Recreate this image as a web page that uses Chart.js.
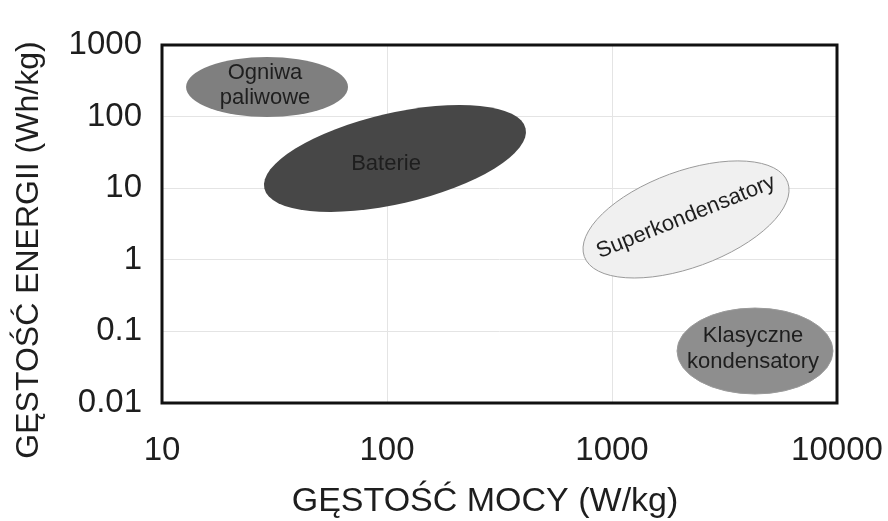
<!DOCTYPE html>
<html>
<head>
<meta charset="utf-8">
<script src="https://cdn.jsdelivr.net/npm/chart.js@4/dist/chart.umd.min.js"></script>
<style>
  body { margin: 0; background: #fff; }
  canvas { display: block; }
</style>
</head>
<body>
<canvas id="chartCanvas" width="888" height="521"></canvas>
<script>
// dane wykresu Ragone (oś X i Y logarytmiczne)
const xTicks = [10, 100, 1000, 10000]
const yTicks = [0.01, 0.1, 1, 10, 100, 1000]
const xTitle = "GĘSTOŚĆ MOCY (W/kg)"
const yTitle = "GĘSTOŚĆ ENERGII (Wh/kg)"

// obszary: nazwa (linie tekstu), srodek, koniec osi 1, koniec osi 2 (w jednostkach danych)
const regionNames = [["Ogniwa", "paliwowe"], ["Baterie"], ["Superkondensatory"], ["Klasyczne", "kondensatory"]]
const regionCenters = [[29.3, 259], [108.5, 26.0], [2133, 3.66], [4321, 0.0532]]
const regionAxisA = [[67.1, 259], [413, 68.4], [6040, 12.09], [9599, 0.0532]]
const regionAxisB = [[29.3, 680], [120.5, 6.27], [2524, 0.854], [4321, 0.212]]
const regionLabelAt = [[28.7, 276], [99, 21.8], [2133, 3.96], [4233, 0.0568]]

// wyglad obszarow
const regionFill = ["#7f7f7f", "#474747", "#f0f0f0", "#8e8e8e"]
const regionStroke = [null, null, "#9a9a9a", "#9a9a9a"]
const labelAngle = [0, 0, -22, 0]
const labelLineGap = [25, 0, 0, 26]
const FONT = '"Liberation Sans", Arial, sans-serif'

// rysowanie elips przez skale wykresu
const ellipsePlugin = {
    id: "ellipses",
    beforeDatasetsDraw(chart) {
        const ctx = chart.ctx
        const sx = chart.scales.x, sy = chart.scales.y
        const px = p => ({x: sx.getPixelForValue(p[0]), y: sy.getPixelForValue(p[1])})
        regionNames.forEach((name, i) => {
            const c = px(regionCenters[i]), a = px(regionAxisA[i]), b = px(regionAxisB[i])
            ctx.save()
            ctx.beginPath()
            ctx.transform(a.x - c.x, a.y - c.y, b.x - c.x, b.y - c.y, c.x, c.y)
            ctx.arc(0, 0, 1, 0, Math.PI * 2)
            ctx.restore()
            ctx.save()
            ctx.fillStyle = regionFill[i]
            ctx.fill()
            if (regionStroke[i]) {
                ctx.strokeStyle = regionStroke[i]
                ctx.lineWidth = 1
                ctx.stroke()
            }
            // tekst
            const t = px(regionLabelAt[i])
            ctx.translate(t.x, t.y)
            ctx.rotate(labelAngle[i] * Math.PI / 180)
            ctx.fillStyle = "#1e1e1e"
            ctx.font = "22px " + FONT
            ctx.textAlign = "center"
            ctx.textBaseline = "middle"
            const n = name.length
            name.forEach((line, k) => {
                ctx.fillText(line, 0, (k - (n - 1) / 2) * labelLineGap[i])
            })
            ctx.restore()
        })
    },
    afterDraw(chart) {
        const ctx = chart.ctx
        const a = chart.chartArea
        ctx.save()
        // ramka wykresu
        ctx.strokeStyle = "#111"
        ctx.lineWidth = 3
        ctx.strokeRect(a.left, a.top, a.right - a.left, a.bottom - a.top)
        ctx.fillStyle = "#1e1e1e"
        ctx.textAlign = "center"
        ctx.textBaseline = "middle"
        // tytul osi X
        ctx.font = "34px " + FONT
        ctx.fillText(xTitle, 485, 502)
        // tytul osi Y
        ctx.translate(29, 250)
        ctx.rotate(-Math.PI / 2)
        ctx.font = "32px " + FONT
        ctx.fillText(yTitle, 0, 0)
        ctx.restore()
    }
}

const fmt = v => String(v)

const ctx = document.getElementById("chartCanvas")
const myChart = new Chart(ctx, {
    type: "scatter",
    data: {datasets: [{data: regionCenters.map(p => ({x: p[0], y: p[1]})), pointRadius: 0}]},
    options: {
        responsive: false,
        animation: false,
        layout: {padding: {top: 45, right: 51, left: 0, bottom: 0}},
        plugins: {legend: {display: false}, tooltip: {enabled: false}},
        scales: {
            x: {
                type: "logarithmic",
                min: 10, max: 10000,
                afterBuildTicks: s => { s.ticks = xTicks.map(v => ({value: v})) },
                afterFit: s => { s.height = 118; s.paddingLeft = 0; s.paddingRight = 0 },
                grid: {color: "#e4e4e4", lineWidth: 1, drawTicks: false},
                border: {display: false},
                ticks: {color: "#1e1e1e", font: {family: FONT, size: 33}, padding: 28, callback: fmt, maxRotation: 0, autoSkip: false},
                title: {display: false}
            },
            y: {
                type: "logarithmic",
                min: 0.01, max: 1000,
                afterBuildTicks: s => { s.ticks = yTicks.map(v => ({value: v})) },
                afterFit: s => { s.width = 162; s.paddingTop = 0; s.paddingBottom = 0 },
                grid: {color: "#e4e4e4", lineWidth: 1, drawTicks: false},
                border: {display: false},
                ticks: {color: "#1e1e1e", font: {family: FONT, size: 33}, padding: 20, callback: fmt, autoSkip: false},
                title: {display: false}
            }
        }
    },
    plugins: [ellipsePlugin]
})
</script>
</body>
</html>
